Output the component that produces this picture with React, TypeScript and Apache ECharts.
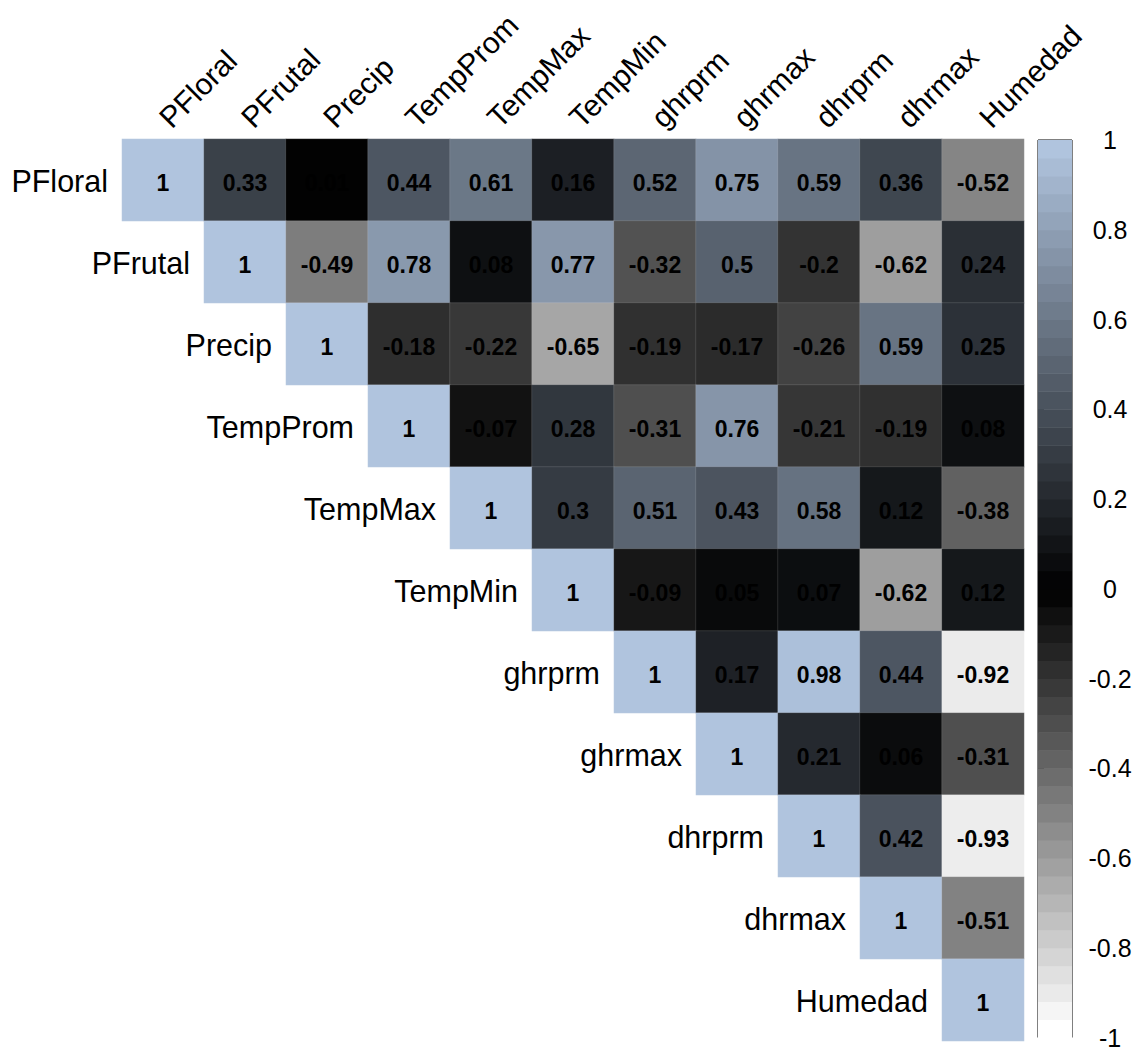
import React, { useEffect, useRef } from "react";
import * as echarts from "echarts";

const VARIABLES = ["PFloral", "PFrutal", "Precip", "TempProm", "TempMax", "TempMin", "ghrprm", "ghrmax", "dhrprm", "dhrmax", "Humedad"];

// upper triangle rows (starting at the diagonal)
const ROW_PFLORAL = [1, 0.33, 0.01, 0.44, 0.61, 0.16, 0.52, 0.75, 0.59, 0.36, -0.52];
const ROW_PFRUTAL = [1, -0.49, 0.78, 0.08, 0.77, -0.32, 0.5, -0.2, -0.62, 0.24];
const ROW_PRECIP = [1, -0.18, -0.22, -0.65, -0.19, -0.17, -0.26, 0.59, 0.25];
const ROW_TEMPPROM = [1, -0.07, 0.28, -0.31, 0.76, -0.21, -0.19, 0.08];
const ROW_TEMPMAX = [1, 0.3, 0.51, 0.43, 0.58, 0.12, -0.38];
const ROW_TEMPMIN = [1, -0.09, 0.05, 0.07, -0.62, 0.12];
const ROW_GHRPRM = [1, 0.17, 0.98, 0.44, -0.92];
const ROW_GHRMAX = [1, 0.21, 0.06, -0.31];
const ROW_DHRPRM = [1, 0.42, -0.93];
const ROW_DHRMAX = [1, -0.51];
const ROW_HUMEDAD = [1];

const ROWS = [ROW_PFLORAL, ROW_PFRUTAL, ROW_PRECIP, ROW_TEMPPROM, ROW_TEMPMAX, ROW_TEMPMIN, ROW_GHRPRM, ROW_GHRMAX, ROW_DHRPRM, ROW_DHRMAX, ROW_HUMEDAD];

const LEGEND_STEPS = 50;

const STOPS = [
  [255, 255, 255],
  [0, 0, 0],
  [176, 196, 222],
];

function colorAt(t: number): string {
  const tt = Math.max(0, Math.min(1, t));
  let a, b, f;
  if (tt <= 0.5) {
    a = STOPS[0];
    b = STOPS[1];
    f = tt * 2;
  } else {
    a = STOPS[1];
    b = STOPS[2];
    f = (tt - 0.5) * 2;
  }
  const c = a.map((v, i) => Math.round(v + (b[i] - v) * f));
  return `rgb(${c[0]},${c[1]},${c[2]})`;
}

const FONT = "'Liberation Sans', Arial, sans-serif";

export default function App() {
  const ref = useRef<HTMLDivElement>(null);

  useEffect(() => {
    if (!ref.current) return;
    const chart = echarts.init(ref.current, null, { renderer: "svg" });

    const cells: any[] = [];
    ROWS.forEach((row, r) => {
      row.forEach((v, k) => {
        cells.push([r + k, r, v]);
      });
    });

    const labelData = VARIABLES.map((_, i) => [i, i]);

    const bands: any[] = [];
    for (let k = 0; k < LEGEND_STEPS; k++) {
      const lo = -1 + (2 * k) / LEGEND_STEPS;
      const hi = -1 + (2 * (k + 1)) / LEGEND_STEPS;
      bands.push([k, lo, hi]);
    }

    const option: any = {
      animation: false,
      backgroundColor: "#ffffff",
      textStyle: { fontFamily: FONT },
      grid: [
        { left: 122, top: 139, width: 902, height: 902, containLabel: false },
        { left: 1038, top: 140, width: 34, height: 900, show: true, borderColor: "#000", borderWidth: 1, backgroundColor: "transparent" },
      ],
      xAxis: [
        {
          type: "category",
          gridIndex: 0,
          position: "top",
          data: VARIABLES,
          axisLine: { show: false },
          axisTick: { show: false },
          splitLine: { show: false },
          axisLabel: { show: false },
        },
        { type: "value", gridIndex: 1, min: 0, max: 1, show: false },
      ],
      yAxis: [
        {
          type: "category",
          gridIndex: 0,
          inverse: true,
          data: VARIABLES,
          show: false,
        },
        {
          type: "value",
          gridIndex: 1,
          min: -1,
          max: 1,
          interval: 0.2,
          position: "right",
          splitLine: { show: false },
          axisLine: { show: false },
          axisTick: { show: true, length: 6, inside: false, lineStyle: { color: "#000", width: 1 } },
          axisLabel: {
            fontSize: 25,
            color: "#000",
            align: "center",
            margin: 38,
            fontFamily: FONT,
            formatter: (v: number) => String(Math.round(v * 10) / 10),
          },
        },
      ],
      visualMap: {
        show: false,
        seriesIndex: 0,
        dimension: 2,
        min: -1,
        max: 1,
        inRange: { color: ["#ffffff", "#000000", "#b0c4de"] },
      },
      series: [
        {
          type: "heatmap",
          xAxisIndex: 0,
          yAxisIndex: 0,
          data: cells,
          itemStyle: { borderColor: "rgba(255,255,255,0.12)", borderWidth: 1 },
          label: {
            show: true,
            fontSize: 23,
            fontWeight: "bold",
            color: "#000",
            fontFamily: FONT,
            offset: [0, 3],
            formatter: (p: any) => String(p.value[2]),
          },
          emphasis: { disabled: true },
        },
        {
          // row labels, left of the diagonal cells
          type: "custom",
          xAxisIndex: 0,
          yAxisIndex: 0,
          data: labelData,
          silent: true,
          renderItem: (params: any, api: any) => {
            const i = api.value(0);
            const c = api.coord([i, api.value(1)]);
            const w = api.size([1, 1])[0];
            return {
              type: "text",
              x: c[0] - w / 2 - 14,
              y: c[1] + 1,
              style: {
                text: VARIABLES[params.dataIndex],
                align: "right",
                verticalAlign: "middle",
                fontSize: 30.5,
                fontFamily: FONT,
                fill: "#000",
              },
            };
          },
        },
        {
          // column labels, rotated 45 degrees above the grid
          type: "custom",
          xAxisIndex: 0,
          yAxisIndex: 0,
          data: labelData,
          silent: true,
          renderItem: (params: any, api: any) => {
            const i = api.value(0);
            const c = api.coord([i, 0]);
            const h = api.size([1, 1])[1];
            return {
              type: "text",
              x: c[0] + 12,
              y: c[1] - h / 2 - 6,
              rotation: Math.PI / 4,
              style: {
                text: VARIABLES[params.dataIndex],
                align: "left",
                verticalAlign: "bottom",
                fontSize: 30,
                fontFamily: FONT,
                fill: "#000",
              },
            };
          },
        },
        {
          // colour legend bands
          type: "custom",
          xAxisIndex: 1,
          yAxisIndex: 1,
          data: bands,
          silent: true,
          renderItem: (params: any, api: any) => {
            const k = api.value(0);
            const lo = api.coord([0, api.value(1)]);
            const hi = api.coord([1, api.value(2)]);
            return {
              type: "rect",
              shape: { x: lo[0], y: hi[1], width: hi[0] - lo[0], height: lo[1] - hi[1] + 0.5 },
              style: { fill: colorAt(k / (LEGEND_STEPS - 1)) },
            };
          },
        },
      ],
    };

    chart.setOption(option);
    return () => chart.dispose();
  }, []);

  return <div ref={ref} style={{ position: "absolute", left: 0, top: 0, width: 1137, height: 1050 }} />;
}
